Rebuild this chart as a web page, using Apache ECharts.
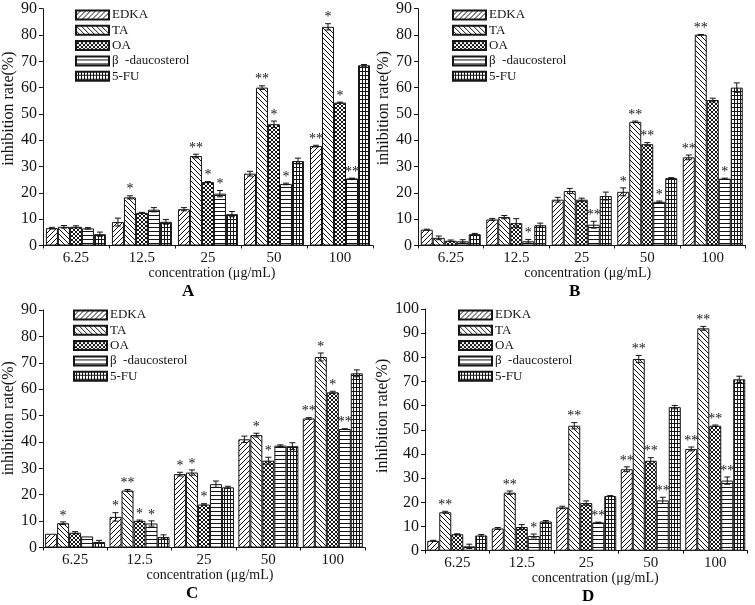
<!DOCTYPE html>
<html><head><meta charset="utf-8">
<script src="https://cdn.jsdelivr.net/npm/echarts@6/dist/echarts.min.js"></script>
<style>html,body{margin:0;padding:0;background:#fff}#c{width:755px;height:605px}</style>
</head><body><div id="c"></div>
<script>
// ---------- data ----------
const categories = ['6.25', '12.5', '25', '50', '100'];
const seriesNames = ['EDKA', 'TA', 'OA', 'β  -daucosterol', '5-FU'];
const yTickInterval = 10;

// Panel A
const A_EDKA = [6.6, 8.9, 13.8, 27.3, 37.8];
const A_TA   = [7.1, 18.3, 34.0, 60.0, 83.1];
const A_OA   = [7.1, 12.4, 24.1, 46.1, 54.3];
const A_BETA = [6.5, 13.6, 19.7, 23.4, 25.5];
const A_FU   = [4.3, 9.0, 11.9, 32.1, 68.5];
const A_EDKA_err = [0.3, 1.5, 0.6, 0.9, 0.3];
const A_TA_err   = [0.5, 0.6, 0.7, 0.7, 1.2];
const A_OA_err   = [0.4, 0.2, 0.2, 1.2, 0.2];
const A_BETA_err = [0.3, 0.8, 1.2, 0.3, 0.1];
const A_FU_err   = [0.8, 0.9, 1.0, 1.1, 0.3];
const A_EDKA_sig = ['', '', '', '', '**'];
const A_TA_sig   = ['', '*', '**', '**', '*'];
const A_OA_sig   = ['', '', '*', '*', '*'];
const A_BETA_sig = ['', '', '*', '*', '**'];
const A_FU_sig   = ['', '', '', '', ''];

// Panel B
const B_EDKA = [6.0, 9.9, 17.4, 20.4, 33.5];
const B_TA   = [2.9, 10.8, 20.7, 47.0, 80.1];
const B_OA   = [1.8, 8.5, 17.4, 38.5, 55.3];
const B_BETA = [1.6, 1.6, 7.9, 16.6, 25.4];
const B_FU   = [4.3, 7.7, 18.8, 25.6, 60.0];
const B_EDKA_err = [0.2, 0.4, 0.9, 1.5, 0.9];
const B_TA_err   = [0.7, 0.6, 1.0, 0.3, 0.1];
const B_OA_err   = [0.3, 1.7, 0.6, 0.6, 0.7];
const B_BETA_err = [0.6, 0.7, 1.3, 0.3, 0.2];
const B_FU_err   = [0.3, 0.8, 1.5, 0.2, 1.8];
const B_EDKA_sig = ['', '', '', '*', '**'];
const B_TA_sig   = ['', '', '', '**', '**'];
const B_OA_sig   = ['', '', '', '**', ''];
const B_BETA_sig = ['', '*', '**', '*', '*'];
const B_FU_sig   = ['', '', '', '', ''];

// Panel C
const C_EDKA = [5.2, 11.6, 27.8, 41.0, 48.9];
const C_TA   = [9.2, 21.6, 28.4, 42.6, 72.2];
const C_OA   = [5.6, 10.1, 16.3, 32.9, 58.8];
const C_BETA = [4.2, 9.1, 24.0, 38.6, 44.9];
const C_FU   = [2.1, 4.0, 22.8, 38.4, 66.0];
const C_EDKA_err = [0, 1.6, 0.7, 1.2, 0.3];
const C_TA_err   = [0.5, 0.4, 1.0, 0.7, 1.5];
const C_OA_err   = [0.4, 0.3, 0.3, 1.3, 0.4];
const C_BETA_err = [0, 1.0, 1.2, 0.3, 0.1];
const C_FU_err   = [0.6, 0.8, 0.4, 1.3, 1.3];
const C_EDKA_sig = ['', '*', '*', '', '**'];
const C_TA_sig   = ['*', '**', '*', '*', '*'];
const C_OA_sig   = ['', '*', '*', '*', '*'];
const C_BETA_sig = ['', '*', '', '', '**'];
const C_FU_sig   = ['', '', '', '', ''];

// Panel D
const D_EDKA = [4.1, 9.2, 17.9, 33.7, 42.1];
const D_TA   = [15.9, 24.0, 51.7, 79.3, 92.0];
const D_OA   = [6.8, 9.8, 19.7, 37.2, 51.7];
const D_BETA = [1.8, 6.1, 11.7, 20.8, 29.0];
const D_FU   = [6.3, 12.1, 22.6, 59.4, 70.9];
const D_EDKA_err = [0.2, 0.4, 0.5, 1.0, 0.8];
const D_TA_err   = [0.4, 0.7, 1.3, 1.5, 0.8];
const D_OA_err   = [0.2, 1.0, 0.9, 1.3, 0.3];
const D_BETA_err = [0.9, 0.8, 0.1, 1.3, 1.5];
const D_FU_err   = [0.4, 0.4, 0.2, 0.7, 1.3];
const D_EDKA_sig = ['', '', '', '**', '**'];
const D_TA_sig   = ['**', '**', '**', '**', '**'];
const D_OA_sig   = ['', '', '', '**', '**'];
const D_BETA_sig = ['', '*', '**', '**', '**'];
const D_FU_sig   = ['', '', '', '', ''];

// ---------- layout / style ----------
const FONT = '"Liberation Serif", "Times New Roman", serif';
const INK = '#151515';
const BW = 12;

const panels = [
  { key: 'A', yMax: 90, vals: [A_EDKA, A_TA, A_OA, A_BETA, A_FU], errs: [A_EDKA_err, A_TA_err, A_OA_err, A_BETA_err, A_FU_err], sigs: [A_EDKA_sig, A_TA_sig, A_OA_sig, A_BETA_sig, A_FU_sig],
    grid: { left: 41, top: 8.7, width: 332, height: 236.8 }, legend: { left: 75, top: 8.5 }, title: { x: 188, y: 292 }, xShift: 4, yShift: 18.5, yGap: 22 },
  { key: 'B', yMax: 90, vals: [B_EDKA, B_TA, B_OA, B_BETA, B_FU], errs: [B_EDKA_err, B_TA_err, B_OA_err, B_BETA_err, B_FU_err], sigs: [B_EDKA_sig, B_TA_sig, B_OA_sig, B_BETA_sig, B_FU_sig],
    grid: { left: 418, top: 8.7, width: 327.5, height: 236.8 }, legend: { left: 452, top: 8.5 }, title: { x: 575, y: 292 }, xShift: 6, yShift: 19, yGap: 22 },
  { key: 'C', yMax: 90, vals: [C_EDKA, C_TA, C_OA, C_BETA, C_FU], errs: [C_EDKA_err, C_TA_err, C_OA_err, C_BETA_err, C_FU_err], sigs: [C_EDKA_sig, C_TA_sig, C_OA_sig, C_BETA_sig, C_FU_sig],
    grid: { left: 41, top: 310, width: 324, height: 237.5 }, legend: { left: 73, top: 308.5 }, title: { x: 192, y: 594 }, xShift: 6, yShift: 10.5, yGap: 22 },
  { key: 'D', yMax: 100, vals: [D_EDKA, D_TA, D_OA, D_BETA, D_FU], errs: [D_EDKA_err, D_TA_err, D_OA_err, D_BETA_err, D_FU_err], sigs: [D_EDKA_sig, D_TA_sig, D_OA_sig, D_BETA_sig, D_FU_sig],
    grid: { left: 425, top: 309, width: 322.5, height: 241.7 }, legend: { left: 458, top: 308.5 }, title: { x: 588, y: 597 }, xShift: 9, yShift: 14, yGap: 29 }
];

function makePattern(kind) {
  const c = document.createElement('canvas');
  let w = 5, h = 5;
  if (kind === 'cross') { w = h = 4; }
  if (kind === 'horiz') { w = 4; h = 4; }
  if (kind === 'grid') { w = 3; h = 4; }
  c.width = w; c.height = h;
  const g = c.getContext('2d');
  g.fillStyle = '#fff'; g.fillRect(0, 0, w, h);
  g.strokeStyle = INK; g.lineWidth = 1;
  g.beginPath();
  const s = w;
  if (kind === 'fwd' || kind === 'cross') {
    g.moveTo(-1, s + 1); g.lineTo(s + 1, -1);
    g.moveTo(-1, 1); g.lineTo(1, -1);
    g.moveTo(s - 1, s + 1); g.lineTo(s + 1, s - 1);
  }
  if (kind === 'back' || kind === 'cross') {
    g.moveTo(-1, -1); g.lineTo(s + 1, s + 1);
    g.moveTo(s - 1, -1); g.lineTo(s + 1, 1);
    g.moveTo(-1, s - 1); g.lineTo(1, s + 1);
  }
  if (kind === 'horiz') { g.moveTo(0, h - 0.5); g.lineTo(w, h - 0.5); }
  if (kind === 'grid') {
    g.moveTo(0, h - 0.5); g.lineTo(w, h - 0.5);
    g.moveTo(w - 0.5, 0); g.lineTo(w - 0.5, h);
  }
  g.stroke();
  return { image: c, repeat: 'repeat' };
}
const patterns = [makePattern('fwd'), makePattern('back'), makePattern('cross'), makePattern('horiz'), makePattern('grid')];

const grids = [], xAxes = [], yAxes = [], legends = [], titles = [], series = [];

panels.forEach((p, pi) => {
  grids.push(Object.assign({ containLabel: false }, p.grid));
  xAxes.push({
    type: 'category', gridIndex: pi, data: categories,
    name: 'concentration (μg/mL)', nameLocation: 'middle', nameGap: 19,
    nameTextStyle: { fontFamily: FONT, fontSize: 14, color: INK, padding: [0, 0, 0, 2 * p.xShift] },
    axisLine: { show: true, lineStyle: { color: INK, width: 1 } },
    axisTick: { show: true, length: 3, lineStyle: { color: INK } },
    axisLabel: { fontFamily: FONT, fontSize: 15, color: INK, margin: 5 },
    splitLine: { show: false }
  });
  yAxes.push({
    type: 'value', gridIndex: pi, min: 0, max: p.yMax, interval: yTickInterval,
    name: 'inhibition rate(%)', nameLocation: 'middle', nameGap: p.yGap, nameRotate: 90,
    nameTextStyle: { fontFamily: FONT, fontSize: 16, color: INK, padding: [0, 0, 0, 2 * p.yShift] },
    axisLine: { show: true, lineStyle: { color: INK, width: 1 } },
    axisTick: { show: true, length: 4, lineStyle: { color: INK } },
    axisLabel: { fontFamily: FONT, fontSize: 16, color: INK, margin: 6 },
    splitLine: { show: false }
  });
  legends.push({
    data: seriesNames, orient: 'vertical', left: p.legend.left, top: p.legend.top,
    padding: 0, itemWidth: 33, itemHeight: 9, itemGap: 2.3, icon: 'rect',
    selectedMode: false,
    textStyle: { fontFamily: FONT, fontSize: 13, color: INK, lineHeight: 13, padding: [0, 0, 0, -2] }
  });
  titles.push({
    text: p.key, left: p.title.x - 6, top: p.title.y - 9, padding: 0,
    textStyle: { fontFamily: FONT, fontSize: 17, fontWeight: 'bold', color: '#000' }
  });
  p.vals.forEach((v, si) => {
    series.push({
      type: 'bar', name: seriesNames[si], xAxisIndex: pi, yAxisIndex: pi,
      data: v, barWidth: BW, barGap: '0%', silent: true, animation: false,
      itemStyle: { color: patterns[si], borderColor: INK, borderWidth: 1 }
    });
  });
  const items = [];
  p.vals.forEach((v, si) => v.forEach((val, ci) => items.push([ci, si, val, p.errs[si][ci]])));
  const sigs = p.sigs;
  series.push({
    type: 'custom', xAxisIndex: pi, yAxisIndex: pi, silent: true, animation: false, z: 5,
    data: items, encode: { x: 0, y: 2 },
    renderItem: (params, api) => {
      const ci = api.value(0), si = api.value(1), v = api.value(2), e = api.value(3);
      const base = api.coord([ci, v]);
      const x = base[0] + (si - 2) * BW;
      const yt = api.coord([ci, v + e])[1];
      const yb = api.coord([ci, v - e])[1];
      const st = { stroke: INK, lineWidth: 1 };
      const ch = [];
      if (e > 0) {
        ch.push({ type: 'line', shape: { x1: x, y1: yt, x2: x, y2: yb }, style: st });
        ch.push({ type: 'line', shape: { x1: x - 3, y1: yt, x2: x + 3, y2: yt }, style: st });
        ch.push({ type: 'line', shape: { x1: x - 3, y1: yb, x2: x + 3, y2: yb }, style: st });
      }
      const sg = sigs[si][ci];
      if (sg) {
        ch.push({ type: 'text', style: { text: sg, x: x, y: yt + 1, align: 'center', verticalAlign: 'bottom', font: '14px ' + FONT, fill: INK } });
      }
      return { type: 'group', children: ch };
    }
  });
});

const chart = echarts.init(document.getElementById('c'), null, { renderer: 'canvas' });
chart.setOption({
  backgroundColor: '#fff', animation: false,
  title: titles, legend: legends, grid: grids, xAxis: xAxes, yAxis: yAxes, series: series
});
</script></body></html>
